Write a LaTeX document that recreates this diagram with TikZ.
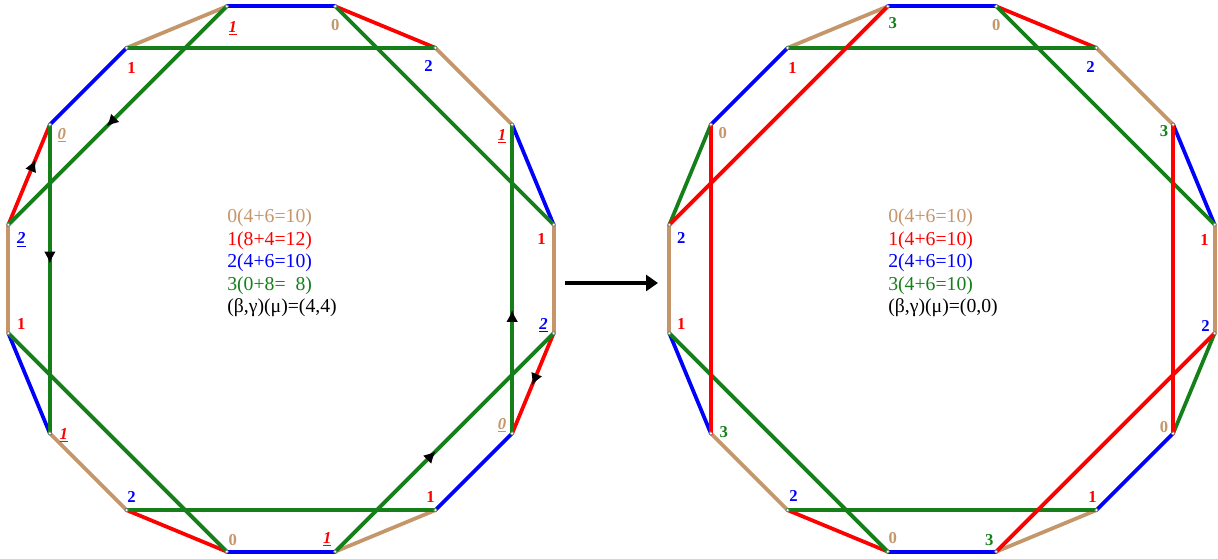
\documentclass[tikz,border=0pt]{standalone}
\usepackage{fontspec}
\setmainfont{Liberation Serif}
\usetikzlibrary{arrows.meta, positioning, calc, decorations.markings}
\definecolor{tanedge}{HTML}{C4966A}
\definecolor{rededge}{HTML}{FF0000}
\definecolor{blueedge}{HTML}{0000FF}
\definecolor{greenedge}{HTML}{15801A}
\newcommand{\ulab}[1]{\underline{\textit{#1}}}

\begin{document}
\begin{tikzpicture}[x=0.75pt, y=0.75pt,
    edge/.style={line width=2.8pt, line cap=round},
    midarrow/.style={postaction={decorate}, decoration={markings,
        mark=at position #1 with {\arrow[black]{Latex[length=9pt,width=9pt]}}}},
    vdot/.style={circle, draw=gray, fill=white, inner sep=0pt, minimum size=2.6pt, line width=0.4pt},
    vlabel/.style={font=\fontsize{12.5}{12.5}\selectfont\bfseries, inner sep=0pt},
    tally/.style={align=left, anchor=west, inner sep=0pt, font=\fontsize{14.8}{16.9}\selectfont}]

  \fill[white] (0,0) rectangle (1218,559);
  \useasboundingbox (0,0) rectangle (1218,559);

  % The two 16-gons (left: before, right: after).
  \foreach \i in {0,...,15} {
    \coordinate (L\i) at ($(281,280)+({101.25-22.5*\i}:278)$);
    \coordinate (R\i) at ($(942,280)+({101.25-22.5*\i}:278)$);
  }

  % Outer edges.
  \foreach \a/\b/\c in {0/1/blueedge, 1/2/rededge, 2/3/tanedge, 3/4/blueedge, 4/5/tanedge,
      6/7/blueedge, 7/8/tanedge, 8/9/blueedge, 9/10/rededge, 10/11/tanedge, 11/12/blueedge,
      12/13/tanedge, 14/15/blueedge, 15/0/tanedge}
    \draw[edge, \c] (L\a) -- (L\b);
  \draw[edge, rededge, midarrow=0.52] (L5) -- (L6);
  \draw[edge, rededge, midarrow=0.65] (L13) -- (L14);

  \foreach \a/\b/\c in {0/1/blueedge, 1/2/rededge, 2/3/tanedge, 3/4/blueedge, 4/5/tanedge,
      5/6/greenedge, 6/7/blueedge, 7/8/tanedge, 8/9/blueedge, 9/10/rededge, 10/11/tanedge,
      11/12/blueedge, 12/13/tanedge, 13/14/greenedge, 14/15/blueedge, 15/0/tanedge}
    \draw[edge, \c] (R\a) -- (R\b);

  % Chords.
  \foreach \a/\b in {15/2, 10/7, 1/4, 12/9}
    \draw[edge, greenedge] (L\a) -- (L\b);
  \draw[edge, greenedge, midarrow=0.55] (L0) -- (L13);
  \draw[edge, greenedge, midarrow=0.45] (L14) -- (L11);
  \draw[edge, greenedge, midarrow=0.46] (L8) -- (L5);
  \draw[edge, greenedge, midarrow=0.40] (L6) -- (L3);

  \foreach \a/\b in {15/2, 10/7, 1/4, 12/9}
    \draw[edge, greenedge] (R\a) -- (R\b);
  \foreach \a/\b in {0/13, 14/11, 8/5, 6/3}
    \draw[edge, rededge] (R\a) -- (R\b);

  % Vertex dots.
  \foreach \i in {0,...,15} {
    \node[vdot] (dL\i) at (L\i) {};
    \node[vdot] (dR\i) at (R\i) {};
  }

  % Vertex labels.
  \foreach \i/\dx/\dy/\t/\c in {0/6/-22/{\ulab{1}}/rededge, 1/0/-19/0/tanedge, 2/-7/-18/2/blueedge,
      3/-10/-12/{\ulab{1}}/rededge, 4/-12/-14/1/rededge, 5/-10/8/{\ulab{2}}/blueedge,
      6/-10/8/{\ulab{0}}/tanedge, 7/-5/13/1/rededge, 8/-8/12/{\ulab{1}}/rededge, 9/6/12/0/tanedge,
      10/5/13/2/blueedge, 11/14/-2/{\ulab{1}}/rededge, 12/13/9/1/rededge,
      13/13/-15/{\ulab{2}}/blueedge, 14/12/-11/{\ulab{0}}/tanedge, 15/5/-20/1/rededge}
    \node[vlabel, text=\c] (nL\i) at ($(L\i)+(\dx,\dy)$) {\t};

  \foreach \i/\dx/\dy/\t/\c in {0/5/-17/3/greenedge, 1/0/-19/0/tanedge, 2/-6/-19/2/blueedge,
      3/-9/-7/3/greenedge, 4/-10/-15/1/rededge, 5/-9/7/2/blueedge, 6/-9/6/0/tanedge,
      7/-4/13/1/rededge, 8/-7/12/3/greenedge, 9/5/14/0/tanedge, 10/6/14/2/blueedge,
      11/13/1/3/greenedge, 12/12/9/1/rededge, 13/12/-13/2/blueedge, 14/12/-8/0/tanedge,
      15/5/-20/1/rededge}
    \node[vlabel, text=\c] (nR\i) at ($(R\i)+(\dx,\dy)$) {\t};

  % Colour tallies.
  \node[tally] (tallyL) at (227,296)
    {\textcolor{tanedge}{0(4+6=10)}\\ \textcolor{rededge}{1(8+4=12)}\\
     \textcolor{blueedge}{2(4+6=10)}\\ \textcolor{greenedge}{3(0+8=\ \ 8)}\\ (β,γ)(μ)=(4,4)};
  \node[tally] (tallyR) at (888,296)
    {\textcolor{tanedge}{0(4+6=10)}\\ \textcolor{rededge}{1(4+6=10)}\\
     \textcolor{blueedge}{2(4+6=10)}\\ \textcolor{greenedge}{3(4+6=10)}\\ (β,γ)(μ)=(0,0)};

  % Move from left to right.
  \coordinate (stepFrom) at (565,276);
  \coordinate (stepTo) at (658,276);
  \draw[line width=2.6pt, -{Triangle[length=9pt,width=12pt]}] (stepFrom) -- (stepTo);
\end{tikzpicture}
\end{document}
